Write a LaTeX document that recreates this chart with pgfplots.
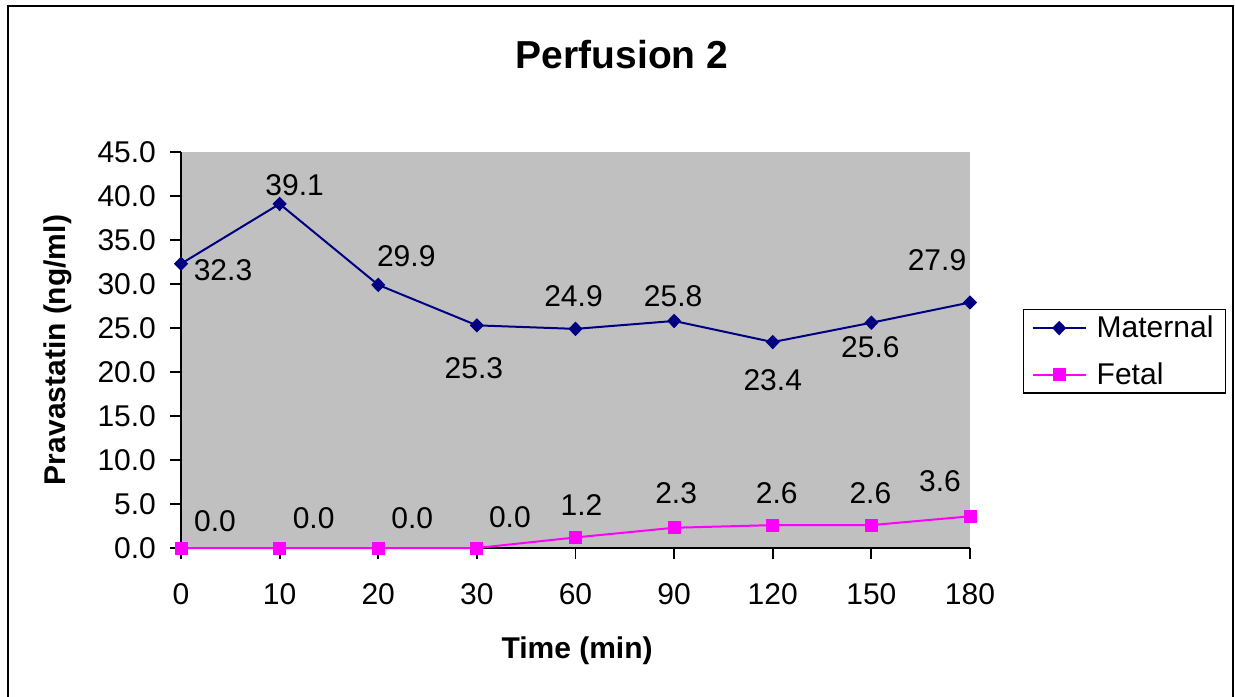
\documentclass[border=0pt]{standalone}
\usepackage{pgfplots}
\pgfplotsset{compat=1.18}
\usepackage{fontspec}
\setmainfont{Liberation Sans}
\definecolor{navy}{HTML}{000080}
\definecolor{mag}{HTML}{FF00FF}
\definecolor{plotgray}{HTML}{C0C0C0}
\newcommand\fs{\fontsize{15}{18}\selectfont}
\pgfplotstableread{
x y dx dy
0 32.3 21 -3
1 39.1 7.5 9.5
2 29.9 14 14.5
3 25.3 -1.5 -21.5
4 24.9 -1 16.5
5 25.8 -0.5 12.5
6 23.4 0 -19
7 25.6 -0.5 -12
8 27.9 -16.5 21
}\maternal
\pgfplotstableread{
x y dx dy
0 0.0 17 13.5
1 0.0 17 15
2 0.0 17 15
3 0.0 16.5 15.5
4 1.2 3 16
5 2.3 1 17.5
6 2.6 2 16
7 2.6 -0.5 16
8 3.6 -15 17.5
}\fetal
\begin{document}
\begin{tikzpicture}
\path[use as bounding box] (0,0) rectangle (617.5pt,348pt);
\draw[line width=1pt] (4pt,-2pt) -- (4pt,345pt) -- (616.5pt,345pt) -- (616.5pt,-2pt);
\node[font=\bfseries\fontsize{19.5}{23}\selectfont] at (311pt,320.5pt) {Perfusion 2};
\begin{axis}[
  at={(90.5pt,74pt)}, anchor=south west,
  scale only axis, width=394.5pt, height=198pt,
  xmin=0, xmax=8, ymin=0, ymax=45,
  axis x line=bottom, axis y line=left,
  axis line style={-, line width=0.9pt},
  axis background/.style={fill=plotgray},
  tick align=outside, major tick length=5.5pt,
  tick style={line width=0.9pt, black},
  xtick={0,...,8}, xticklabels={0,10,20,30,60,90,120,150,180},
  ytick={0,5,...,45},
  tick label style={font=\fs, /pgf/number format/assume math mode=true},
  yticklabel style={/pgf/number format/fixed, /pgf/number format/fixed zerofill, /pgf/number format/precision=1, xshift=-3.5pt},
  xticklabel style={yshift=-8.75pt},
  xlabel={Time (min)}, ylabel={Pravastatin (ng/ml)},
  label style={font=\bfseries\fs},
  xlabel style={at={(axis description cs:0.502,-0.260)}, anchor=center},
  ylabel style={at={(axis description cs:-0.156,0.5)}, anchor=center},
  clip=false,
  legend style={at={(1.0672,0.6035)}, anchor=north west, draw=black, line width=0.7pt, font=\fs, inner xsep=4pt, inner ysep=1pt, row sep=7pt},
  legend cell align=left,
  legend image code/.code={\draw[mark repeat=2,mark phase=2,#1] plot coordinates {(0pt,0pt) (13.25pt,0pt) (26.5pt,0pt)}; \path (29.5pt,0pt);},
  nodes near coords={\pgfmathprintnumber[fixed,fixed zerofill,precision=1,assume math mode=true]{\pgfplotspointmeta}},
  point meta=explicit,
]
\addplot[navy, line width=1pt, mark=diamond*, mark size=2.9pt, mark options={xscale=1.3, solid},
  visualization depends on={\thisrow{dx}\as\dx},
  visualization depends on={\thisrow{dy}\as\dy},
  every node near coord/.append style={font=\fs, text=black, anchor=center, xshift=\dx pt, yshift=\dy pt}]
  table[x=x, y=y, meta=y] {\maternal};
\addlegendentry{Maternal}
\addplot[mag, line width=1pt, mark=square*, mark size=2.75pt, mark options={solid},
  visualization depends on={\thisrow{dx}\as\dx},
  visualization depends on={\thisrow{dy}\as\dy},
  every node near coord/.append style={font=\fs, text=black, anchor=center, xshift=\dx pt, yshift=\dy pt}]
  table[x=x, y=y, meta=y] {\fetal};
\addlegendentry{Fetal}
\end{axis}
\end{tikzpicture}
\end{document}
